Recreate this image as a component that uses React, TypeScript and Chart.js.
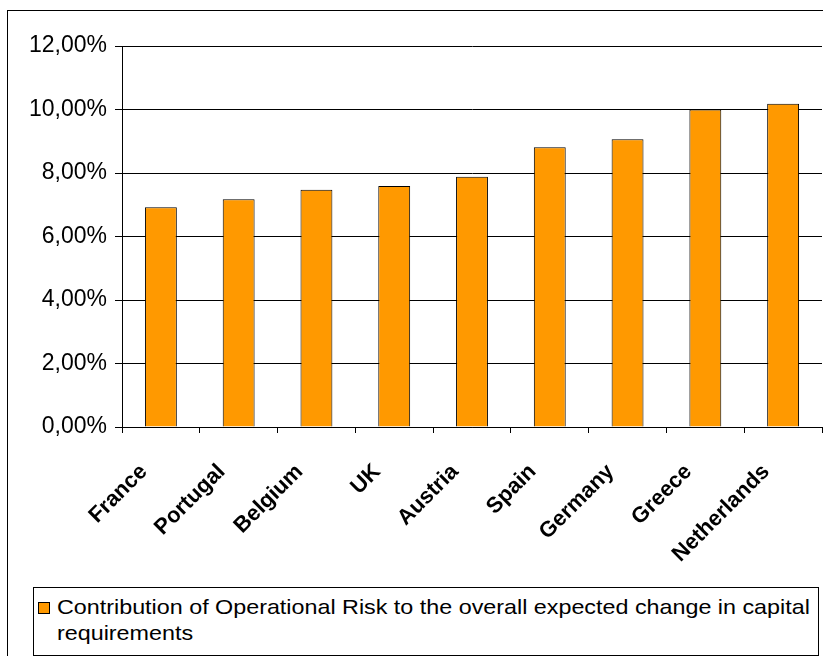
import React, { useEffect, useRef } from 'react';
import { Chart, registerables } from 'chart.js';

Chart.register(...registerables);

const categories = ['France', 'Portugal', 'Belgium', 'UK', 'Austria', 'Spain', 'Germany', 'Greece', 'Netherlands'];
const values = [6.92, 7.17, 7.47, 7.59, 7.88, 8.81, 9.06, 10.0, 10.18];
const yMin = 0;
const yMax = 12;
const yStep = 2;
const seriesLabel = 'Contribution of Operational Risk to the overall expected change in capital requirements';
const legendLine1 = 'Contribution of Operational Risk to the overall expected change in capital';
const legendLine2 = 'requirements';

const FONT = '"Liberation Sans", Arial, sans-serif';

const frame = {
  id: 'frame',
  beforeDraw(chart: any) {
    const ctx = chart.ctx;
    ctx.save();
    ctx.strokeStyle = '#000';
    ctx.lineWidth = 1;
    ctx.strokeRect(7.5, 10.5, 900, 800);
    ctx.restore();
  },
};

export default function App() {
  const ref = useRef<HTMLCanvasElement>(null);
  useEffect(() => {
    document.body.style.margin = '0';
    const chart = new Chart(ref.current!, {
      type: 'bar',
      data: {
        labels: categories,
        datasets: [
          {
            label: seriesLabel,
            data: values,
            backgroundColor: '#FF9900',
            borderColor: '#000',
            borderWidth: 1,
            categoryPercentage: 1,
            barPercentage: 0.41,
          },
        ],
      },
      options: {
        responsive: false,
        animation: false,
        layout: { padding: { top: 46, right: 1, left: 0, bottom: 0 } },
        plugins: { legend: { display: false }, tooltip: { enabled: false } },
        scales: {
          y: {
            min: yMin,
            max: yMax,
            ticks: {
              stepSize: yStep,
              color: '#000',
              padding: 8,
              font: { family: FONT, size: 23 },
              callback: (v: any) => Number(v).toFixed(2).replace('.', ',') + '%',
            },
            grid: { color: '#000', lineWidth: 1, tickLength: 7 },
            border: { display: true, color: '#000' },
            afterFit: (s: any) => {
              s.width = 122;
            },
          },
          x: {
            ticks: {
              color: '#000',
              minRotation: 45,
              maxRotation: 45,
              autoSkip: false,
              padding: 26,
              labelOffset: -17,
              font: { family: FONT, size: 22, weight: 'bold' },
            },
            grid: { drawOnChartArea: false, offset: true, color: '#000', tickLength: 6 },
            border: { display: true, color: '#000' },
            afterFit: (s: any) => {
              s.height = 229;
              s.paddingRight = 0;
              s.paddingLeft = 0;
            },
          },
        },
      },
      plugins: [frame],
    });
    return () => chart.destroy();
  }, []);

  return (
    <div style={{ position: 'relative', width: 823, height: 656, overflow: 'hidden', background: '#fff' }}>
      <canvas ref={ref} width={823} height={656} style={{ position: 'absolute', left: 0, top: 0 }} />
      <div
        style={{
          position: 'absolute',
          left: 33,
          top: 587,
          width: 784,
          height: 67,
          border: '1px solid #000',
          fontFamily: FONT,
          fontSize: 21,
          lineHeight: '26px',
          color: '#000',
          background: '#fff',
        }}
      >
        <div
          style={{
            position: 'absolute',
            left: 4,
            top: 14,
            width: 10,
            height: 10,
            background: '#FF9900',
            border: '1px solid #000',
          }}
        />
        <div
          style={{
            position: 'absolute',
            left: 23,
            top: 6,
            whiteSpace: 'nowrap',
            transform: 'scaleX(1.11)',
            transformOrigin: 'left top',
          }}
        >
          {legendLine1}
          <br />
          {legendLine2}
        </div>
      </div>
    </div>
  );
}
